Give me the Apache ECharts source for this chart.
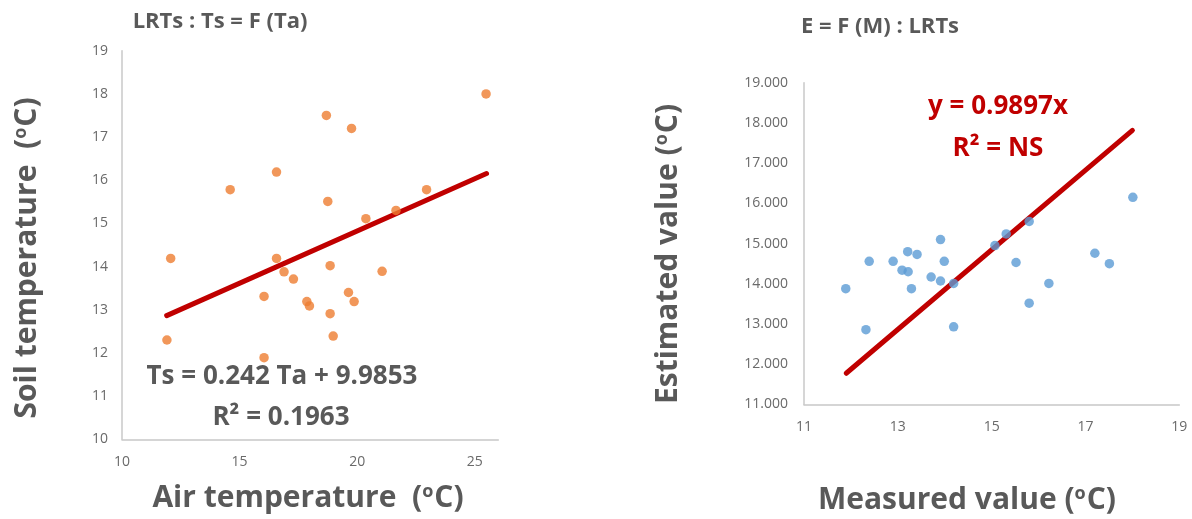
<!DOCTYPE html>
<html>
<head>
<meta charset="utf-8">
<script src="https://cdn.jsdelivr.net/npm/echarts@6/dist/echarts.min.js"></script>
<style>
  html, body { margin: 0; padding: 0; background: #fff; }
  #chart { width: 1192px; height: 519px; }
</style>
</head>
<body>
<div id="chart"></div>
<script>
// Left panel: air temperature (Ta) vs soil temperature (Ts), LRTs
const airTemp = [25.48, 18.69, 19.76, 16.57, 14.60, 18.75, 22.95, 20.37, 21.65, 12.07, 16.57, 16.89,
                 17.29, 18.85, 21.06, 16.04, 17.86, 17.97, 19.63, 19.87, 18.85, 18.98, 11.91, 16.04];
const soilTemp = [18.00, 17.50, 17.20, 16.19, 15.78, 15.51, 15.78, 15.11, 15.30, 14.19, 14.19, 13.88,
                  13.71, 14.02, 13.89, 13.31, 13.19, 13.09, 13.40, 13.19, 12.91, 12.39, 12.30, 11.89];
// Ts = 0.242 Ta + 9.9853
const fitLeft = { slope: 0.242, intercept: 9.9853, xFrom: 11.9, xTo: 25.5 };

// Right panel: measured vs estimated soil temperature, LRTs
const measured  = [18.01, 13.91, 15.31, 15.80, 15.07, 11.89, 12.32, 12.39, 12.90, 13.21, 13.41, 13.09,
                   13.22, 13.29, 13.71, 13.91, 13.99, 14.19, 14.19, 15.52, 15.80, 16.22, 17.20, 17.51];
const estimated = [16.15, 15.10, 15.24, 15.55, 14.95, 13.88, 12.86, 14.56, 14.56, 14.80, 14.73, 14.34,
                   14.30, 13.88, 14.17, 14.07, 14.56, 14.01, 12.93, 14.53, 13.52, 14.01, 14.76, 14.50];
// y = 0.9897x
const fitRight = { slope: 0.9897, intercept: 0, xFrom: 11.9, xTo: 18.0 };

const leftTicksX = [10, 15, 20, 25];
const rightTicksX = [11, 13, 15, 17, 19];

const FONT = '"Open Sans", "Noto Sans", sans-serif';
const GREY = '#595959';
const RED = '#C00000';

function pairs(xs, ys) { return xs.map((x, i) => [x, ys[i]]); }
function fitLine(f) {
  return [[f.xFrom, f.slope * f.xFrom + f.intercept], [f.xTo, f.slope * f.xTo + f.intercept]];
}

const axisLine = { lineStyle: { color: '#C8C8C8', width: 1.5 } };
const tickLabel = { color: '#6a6a6a', fontFamily: FONT, fontSize: 14 };

const nameRich = {
  o: { fontSize: 18, fontWeight: 'bold', fontFamily: FONT, color: GREY, verticalAlign: 'top', padding: [0, 1, 10, 0] }
};

function bigText(x, y, parts, rotate) {
  return {
    type: 'text', x: x, y: y, rotation: rotate ? Math.PI / 2 : 0,
    style: {
      text: parts, textAlign: 'center', textVerticalAlign: 'middle',
      fontFamily: FONT, fontWeight: 'bold', fontSize: 30, fill: GREY,
      rich: nameRich
    }
  };
}
function plainText(x, y, text, size, color) {
  return {
    type: 'text', x: x, y: y,
    style: { text: text, textAlign: 'center', textVerticalAlign: 'middle',
             fontFamily: FONT, fontWeight: 'bold', fontSize: size, fill: color }
  };
}

const chart = echarts.init(document.getElementById('chart'), null, { renderer: 'canvas' });
chart.setOption({
  backgroundColor: '#fff',
  animation: false,
  grid: [
    { left: 122, top: 50.7, width: 376.3, height: 388.6 },
    { left: 804, top: 82.7, width: 375.3, height: 321.8 }
  ],
  xAxis: [
    { gridIndex: 0, type: 'value', min: 10, max: 26, interval: 5,
      axisLine: axisLine, axisTick: { show: false }, splitLine: { show: false },
      axisLabel: Object.assign({ margin: 16, showMaxLabel: false,
        formatter: v => leftTicksX.includes(v) ? String(v) : '' }, tickLabel) },
    { gridIndex: 1, type: 'value', min: 11, max: 19, interval: 2,
      axisLine: axisLine, axisTick: { show: false }, splitLine: { show: false },
      axisLabel: Object.assign({ margin: 16,
        formatter: v => rightTicksX.includes(v) ? String(v) : '' }, tickLabel) }
  ],
  yAxis: [
    { gridIndex: 0, type: 'value', min: 10, max: 19, interval: 1,
      axisLine: Object.assign({ show: true }, axisLine), axisTick: { show: false }, splitLine: { show: false },
      axisLabel: Object.assign({ margin: 14 }, tickLabel) },
    { gridIndex: 1, type: 'value', min: 11, max: 19, interval: 1,
      axisLine: Object.assign({ show: true }, axisLine), axisTick: { show: false }, splitLine: { show: false },
      axisLabel: Object.assign({ margin: 16, formatter: v => v.toFixed(3) }, tickLabel) }
  ],
  series: [
    { type: 'scatter', xAxisIndex: 0, yAxisIndex: 0, data: pairs(airTemp, soilTemp),
      symbolSize: 9.5, itemStyle: { color: '#ED7D31' }, z: 3 },
    { type: 'line', xAxisIndex: 0, yAxisIndex: 0, data: fitLine(fitLeft), symbol: 'none',
      lineStyle: { color: RED, width: 5, cap: 'round' }, z: 2 },
    { type: 'scatter', xAxisIndex: 1, yAxisIndex: 1, data: pairs(measured, estimated),
      symbolSize: 9.5, itemStyle: { color: '#5B9BD5' }, z: 3 },
    { type: 'line', xAxisIndex: 1, yAxisIndex: 1, data: fitLine(fitRight), symbol: 'none',
      lineStyle: { color: RED, width: 5, cap: 'round' }, z: 2 }
  ],
  graphic: [
    plainText(220, 22, 'LRTs : Ts = F (Ta)', 22, GREY),
    plainText(880, 27, 'E = F (M) : LRTs', 22, GREY),
    plainText(282, 377, 'Ts = 0.242 Ta + 9.9853', 26, GREY),
    plainText(281, 418, 'R² = 0.1963', 26, GREY),
    plainText(998, 107, 'y = 0.9897x', 26, RED),
    plainText(998, 149, 'R² = NS', 26, RED),
    bigText(308, 498, 'Air temperature  ({o|o}C)', false),
    bigText(27, 258, 'Soil temperature  ({o|o}C)', true),
    bigText(967, 500, 'Measured value ({o|o}C)', false),
    bigText(668, 254, 'Estimated value ({o|o}C)', true)
  ]
});
</script>
</body>
</html>
